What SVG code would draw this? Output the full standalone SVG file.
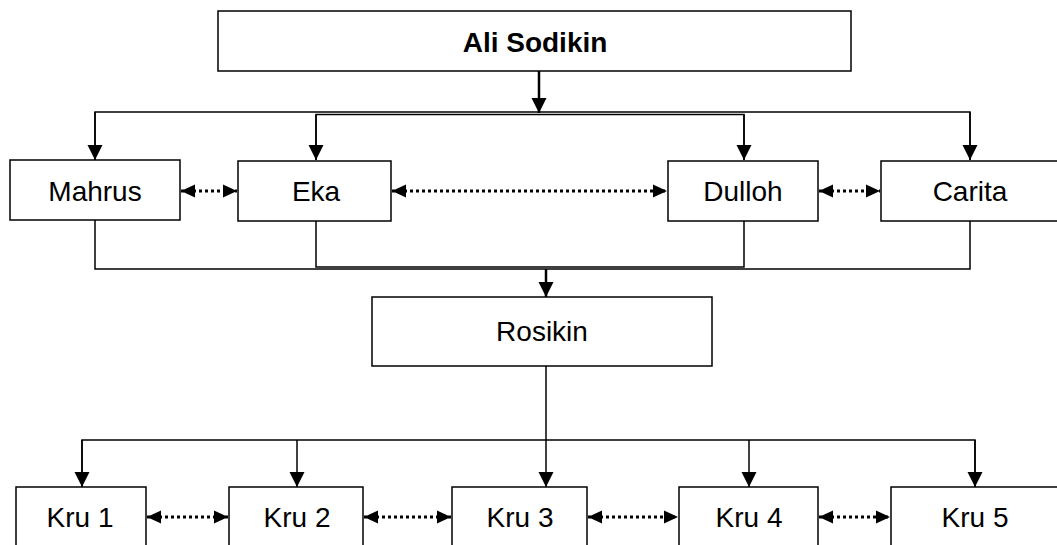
<svg xmlns="http://www.w3.org/2000/svg" width="1057" height="545" viewBox="0 0 1057 545">
<style>
.box{fill:#fff;stroke:#000;stroke-width:1.5}
.t{font-family:"Liberation Sans",Arial,sans-serif;font-size:28px;fill:#000;text-anchor:middle}
.b{font-weight:bold}
.ln{fill:none;stroke:#000;stroke-width:1.5}
.thick{fill:none;stroke:#000;stroke-width:2.5}
.dot{fill:none;stroke:#000;stroke-width:3;stroke-dasharray:3 3}
</style>
<defs>
<marker id="ah" markerUnits="userSpaceOnUse" markerWidth="16" markerHeight="16" viewBox="0 0 16 16" refX="15" refY="8" orient="auto">
<path d="M0,0.5 L15,8 L0,15.5 Z" fill="#000"/>
</marker>
<marker id="dh" markerUnits="userSpaceOnUse" markerWidth="15" markerHeight="15" viewBox="0 0 15 15" refX="14" refY="7.5" orient="auto-start-reverse">
<path d="M0,1 L14,7.5 L0,14 Z" fill="#000"/>
</marker>
</defs>
<rect width="1057" height="545" fill="#fff"/>
<g id="connectors">
<line class="thick" x1="539" y1="71" x2="539" y2="113" marker-end="url(#ah)"/>
<path class="ln" d="M95,160 V112 H970 V160"/>
<polyline class="ln" points="95,112 95,160" marker-end="url(#ah)"/>
<polyline class="ln" points="970,112 970,160" marker-end="url(#ah)"/>
<path class="ln" d="M316,160 V114.5 H744 V160"/>
<polyline class="ln" points="316,114.5 316,160" marker-end="url(#ah)"/>
<polyline class="ln" points="744,114.5 744,160" marker-end="url(#ah)"/>
<line class="dot" x1="181" y1="191" x2="237" y2="191" marker-start="url(#dh)" marker-end="url(#dh)"/>
<line class="dot" x1="392" y1="191" x2="667" y2="191" marker-start="url(#dh)" marker-end="url(#dh)"/>
<line class="dot" x1="819" y1="191" x2="880" y2="191" marker-start="url(#dh)" marker-end="url(#dh)"/>
<path class="ln" d="M95,220 V269 H970 V221"/>
<path class="ln" d="M316,221 V267 H744 V221"/>
<line class="thick" x1="546" y1="269" x2="546" y2="297" marker-end="url(#ah)"/>
<line class="ln" x1="546" y1="366" x2="546" y2="487" marker-end="url(#ah)"/>
<path class="ln" d="M82,487 V440 H975 V487"/>
<polyline class="ln" points="82,440 82,487" marker-end="url(#ah)"/>
<polyline class="ln" points="297,440 297,487" marker-end="url(#ah)"/>
<polyline class="ln" points="749,440 749,487" marker-end="url(#ah)"/>
<polyline class="ln" points="975,440 975,487" marker-end="url(#ah)"/>
<line class="dot" x1="147" y1="517" x2="228" y2="517" marker-start="url(#dh)" marker-end="url(#dh)"/>
<line class="dot" x1="364" y1="517" x2="451" y2="517" marker-start="url(#dh)" marker-end="url(#dh)"/>
<line class="dot" x1="588" y1="517" x2="678" y2="517" marker-start="url(#dh)" marker-end="url(#dh)"/>
<line class="dot" x1="819" y1="517" x2="890" y2="517" marker-start="url(#dh)" marker-end="url(#dh)"/>
</g>
<g id="ali"><rect class="box" x="218" y="11" width="633" height="60"/><text class="t b" x="535" y="52">Ali Sodikin</text></g>
<g id="mahrus"><rect class="box" x="10" y="160" width="170" height="60"/><text class="t" x="95" y="201">Mahrus</text></g>
<g id="eka"><rect class="box" x="238" y="161" width="153" height="60"/><text class="t" x="316" y="201">Eka</text></g>
<g id="dulloh"><rect class="box" x="668" y="161" width="150" height="60"/><text class="t" x="743" y="201">Dulloh</text></g>
<g id="carita"><rect class="box" x="881" y="161" width="190" height="60"/><text class="t" x="970" y="201">Carita</text></g>
<g id="rosikin"><rect class="box" x="372" y="297" width="340" height="69"/><text class="t" x="542" y="341">Rosikin</text></g>
<g id="kru1"><rect class="box" x="16" y="487" width="130" height="80"/><text class="t" x="80" y="527">Kru 1</text></g>
<g id="kru2"><rect class="box" x="229" y="487" width="134" height="80"/><text class="t" x="297" y="527">Kru 2</text></g>
<g id="kru3"><rect class="box" x="452" y="487" width="135" height="80"/><text class="t" x="520" y="527">Kru 3</text></g>
<g id="kru4"><rect class="box" x="679" y="487" width="139" height="80"/><text class="t" x="749" y="527">Kru 4</text></g>
<g id="kru5"><rect class="box" x="891" y="487" width="180" height="80"/><text class="t" x="975" y="527">Kru 5</text></g>
</svg>
